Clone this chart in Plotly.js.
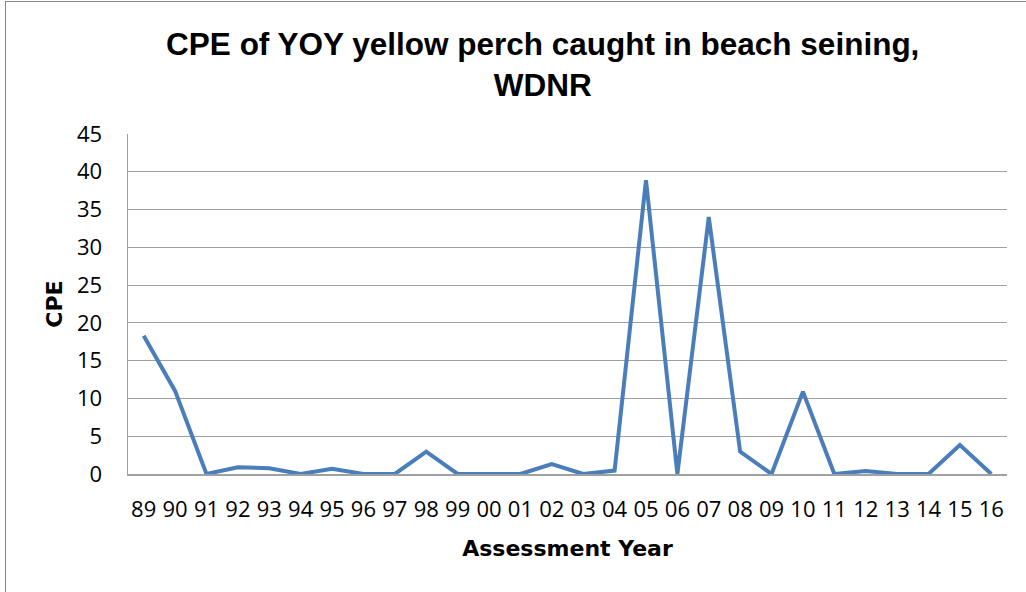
<!DOCTYPE html>
<html>
<head>
<meta charset="utf-8">
<script src="https://cdn.plot.ly/plotly-3.0.1.min.js"></script>
<style>
  html, body { margin: 0; padding: 0; background: #ffffff; }
  #frame { position: absolute; left: 5px; top: 1px; width: 1030px; height: 600px; border: 1.5px solid #888888; box-sizing: border-box; }
  #chart { position: absolute; left: 0; top: 0; width: 1026px; height: 592px; }
</style>
</head>
<body>
<div id="frame"></div>
<div id="chart"></div>
<script>
const years = ["89","90","91","92","93","94","95","96","97","98","99","00","01","02","03","04","05","06","07","08","09","10","11","12","13","14","15","16"];
const cpe = [18.3, 11.0, 0, 0.9, 0.75, 0, 0.7, 0, 0, 2.95, 0, 0, 0, 1.3, 0, 0.45, 38.9, 0, 34.0, 2.95, 0, 10.9, 0, 0.4, 0, 0, 3.85, 0];
const yTicks = [0, 5, 10, 15, 20, 25, 30, 35, 40, 45];

const titleFam = '"Liberation Sans", Arial, sans-serif';
const tickFam = '"Open Sans", "Noto Sans", sans-serif';
const axisTitleFam = '"DejaVu Sans", "Liberation Sans", sans-serif';

const trace = {
  x: years,
  y: cpe,
  type: 'scatter',
  mode: 'lines',
  line: { color: '#4a7ebb', width: 4 },
  hoverinfo: 'x+y'
};

const layout = {
  width: 1026,
  height: 592,
  margin: { l: 128, r: 19, t: 134, b: 118 },
  paper_bgcolor: 'rgba(0,0,0,0)',
  plot_bgcolor: 'rgba(0,0,0,0)',
  showlegend: false,
  title: {
    text: '<b>CPE of YOY yellow perch caught in beach seining,<br>WDNR</b>',
    font: { family: titleFam, size: 31.5, color: '#000000' },
    x: 0.529, xanchor: 'center',
    y: 0.907, yanchor: 'middle'
  },
  xaxis: {
    type: 'category',
    range: [-0.5, 27.5],
    tickvals: years,
    ticktext: years,
    showgrid: false,
    showline: true,
    linecolor: '#a0a0a0',
    linewidth: 1.5,
    ticks: '',
    ticklabelstandoff: 15,
    tickfont: { family: tickFam, size: 22, color: '#000000' },
    title: { text: '<b>Assessment Year</b>', font: { family: axisTitleFam, size: 22, color: '#000000' }, standoff: 18 },
    fixedrange: true
  },
  yaxis: {
    range: [0, 45],
    tickvals: yTicks,
    showgrid: true,
    gridcolor: '#a0a0a0',
    gridwidth: 1.2,
    zeroline: false,
    showline: true,
    linecolor: '#a0a0a0',
    linewidth: 1.5,
    ticks: '',
    ticklabelstandoff: 20,
    tickfont: { family: tickFam, size: 22, color: '#000000' },
    title: { text: '<b>CPE</b>', font: { family: axisTitleFam, size: 22, color: '#000000' }, standoff: 8 },
    fixedrange: true
  }
};

Plotly.newPlot('chart', [trace], layout, { displayModeBar: false, staticPlot: true });
</script>
</body>
</html>
